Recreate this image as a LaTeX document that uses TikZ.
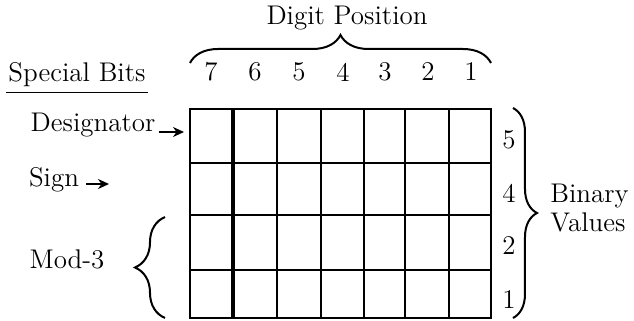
\documentclass[tikz,border=0pt]{standalone}
\usepackage{tikz}
\usetikzlibrary{positioning, decorations.pathreplacing, arrows.meta}

\begin{document}
\begin{tikzpicture}[x=0.5pt, y=-0.5pt, font=\fontsize{13.5}{14.5}\selectfont,
  grid/.style={line width=1pt},
  edge/.style={line width=1.4pt},
  curly/.style={decorate, decoration={brace, amplitude=#1}, line width=1pt},
  pointer/.style={-{Stealth[length=5.5pt, width=5pt]}, line width=1.2pt}]
  \useasboundingbox (0,0) rectangle (634,321);
  \foreach \x in {190,277,321,364,405,449} \draw[grid] (\x,109) -- (\x,318);
  \draw[line width=2pt] (233,109) -- (233,318);
  \foreach \y in {163,215,270} \draw[grid] (190,\y) -- (491,\y);
  \draw[edge] (190,109) rectangle (491,318);
  \coordinate (row5) at (184,132);
  \coordinate (row4) at (109,184);
  \node (digitpos) at (347,18) {Digit Position};
  \foreach \x/\d in {211/7,255/6,299/5,343/4,385/3,428/2,471/1}
    \node (d\d) at (\x,72) {\d};
  \draw[curly=14pt] (190,63) -- (491,63);
  \node[inner xsep=1pt, inner ysep=2.5pt] (special) at (77,75) {Special Bits};
  \draw[line width=0.9pt] (special.south west) -- (special.south east);
  \node[inner xsep=1.5pt] (desig) at (93,125) {Designator};
  \draw[pointer] (desig.east |- row5) -- (row5);
  \node (sign) at (54,180) {Sign};
  \draw[pointer] (sign.east |- row4) -- (row4);
  \node (mod) at (67,259) {Mod-3};
  \draw[curly=15pt] (165,318) -- (165,217);
  \foreach \y/\v in {140/5,193/4,246/2,300/1}
    \node (b\v) at (509,\y) {\v};
  \draw[curly=12pt] (513,108) -- (513,318);
  \node[align=left, anchor=west, inner xsep=1pt] (binary) at (548,208) {Binary\\Values};
\end{tikzpicture}
\end{document}
